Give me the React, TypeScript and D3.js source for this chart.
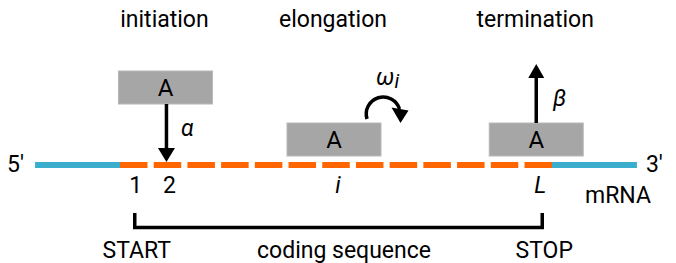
import * as d3 from 'd3'
import React from "react";

// codons along the coding sequence
const codons = d3.range(1, 14);
const positionLabels = [
    { codon: 1, label: "1", italic: false },
    { codon: 2, label: "2", italic: false },
    { codon: 7, label: "i", italic: true },
    { codon: 13, label: "L", italic: true },
];
const stages = ["initiation", "elongation", "termination"];
const ribosomeCodons = [2, 7, 13];
const ribosomeLabel = "A";
const utrLength = [2.52, 2.52]; // in codon steps, 5' and 3'
const bracketLabels = ["START", "coding sequence", "STOP"];

const FONT = 'Roboto, "Liberation Sans", Arial, sans-serif';
const BLUE = "#3aaecc";
const ORANGE = "#ff6600";
const FS = 23;

const App: React.FC = () => {
    const width = 676;
    const height = 263;
    const lineY = 165;

    const x = d3.scaleBand<number>().domain(codons).range([120, 552]).paddingInner(0.184);
    const step = x.step();
    const cx = (c: number) => (x(c) as number) + x.bandwidth() / 2;
    const utr5 = [120 - utrLength[0] * step, 120];
    const utr3 = [552, 552 + utrLength[1] * step];

    const boxW = 94;
    const boxH = 33;
    const boxTop = [71, 123, 123];

    const first = cx(1);
    const last = cx(13);

    return (
        <svg width={width} height={height} style={{ position: 'absolute', left: 0, top: 0 }}
            fontFamily={FONT} fill="#000">
            <rect width={width} height={height} fill="#fff" />

            {/* mRNA */}
            <line x1={utr5[0]} x2={utr5[1]} y1={lineY} y2={lineY} stroke={BLUE} strokeWidth={6} />
            <line x1={utr3[0]} x2={utr3[1]} y1={lineY} y2={lineY} stroke={BLUE} strokeWidth={6} />
            {codons.map(c => (
                <rect key={c} x={x(c)} y={lineY - 3} width={x.bandwidth()} height={6} fill={ORANGE} />
            ))}
            <text x={utr5[0] - 28} y={lineY + 7} fontSize={FS}>5'</text>
            <text x={utr3[1] + 9} y={lineY + 7} fontSize={FS}>3'</text>
            <text x={585} y={203} fontSize={FS}>mRNA</text>

            {positionLabels.map(p => (
                <text key={p.label} x={cx(p.codon) + 2} y={193} fontSize={FS} textAnchor="middle"
                    fontStyle={p.italic ? "italic" : "normal"}>{p.label}</text>
            ))}

            {/* stage titles and ribosomes */}
            {stages.map((s, i) => (
                <text key={s} x={cx(ribosomeCodons[i]) - 3} y={27} fontSize={FS} textAnchor="middle">{s}</text>
            ))}
            {ribosomeCodons.map((c, i) => (
                <g key={c}>
                    <rect x={cx(c) - 2 - boxW / 2} y={boxTop[i]} width={boxW} height={boxH}
                        fill="#a6a6a6" stroke="#b8b8b8" strokeWidth={1} />
                    <text x={cx(c) - 2} y={boxTop[i] + 25} fontSize={24} textAnchor="middle">{ribosomeLabel}</text>
                </g>
            ))}

            {/* initiation arrow */}
            <line x1={cx(2) - 1} x2={cx(2) - 1} y1={boxTop[0] + boxH} y2={150} stroke="#000" strokeWidth={3.5} />
            <path d={`M${cx(2) - 9.5},148 L${cx(2) + 7.5},148 L${cx(2) - 1},162 Z`} fill="#000" />
            <text x={181} y={136} fontSize={FS} fontStyle="italic">α</text>

            {/* elongation arrow */}
            <path d="M367,119 A17,17 0 1 1 399.5,109" fill="none" stroke="#000" strokeWidth={3.5} />
            <path d="M391.5,107.5 L408.5,110.5 L400.5,123 Z" fill="#000" />
            <text x={376} y={85} fontSize={FS} fontStyle="italic">ω<tspan fontSize={20} dy={3}>i</tspan></text>

            {/* termination arrow */}
            <line x1={last - 2} x2={last - 2} y1={boxTop[2]} y2={76} stroke="#000" strokeWidth={3.5} />
            <path d={`M${last - 10},78 L${last + 6},78 L${last - 2},64 Z`} fill="#000" />
            <text x={553} y={106} fontSize={FS} fontStyle="italic">β</text>

            {/* coding sequence bracket */}
            <path d={`M${first + 1},213 V227.5 H${last + 4} V213`} fill="none" stroke="#000" strokeWidth={3.5} />
            <text x={first + 3} y={258} fontSize={FS} textAnchor="middle">{bracketLabels[0]}</text>
            <text x={(first + last) / 2 + 8} y={258} fontSize={FS} textAnchor="middle">{bracketLabels[1]}</text>
            <text x={last + 6} y={258} fontSize={FS} textAnchor="middle">{bracketLabels[2]}</text>
        </svg>
    );
}

export default App;
